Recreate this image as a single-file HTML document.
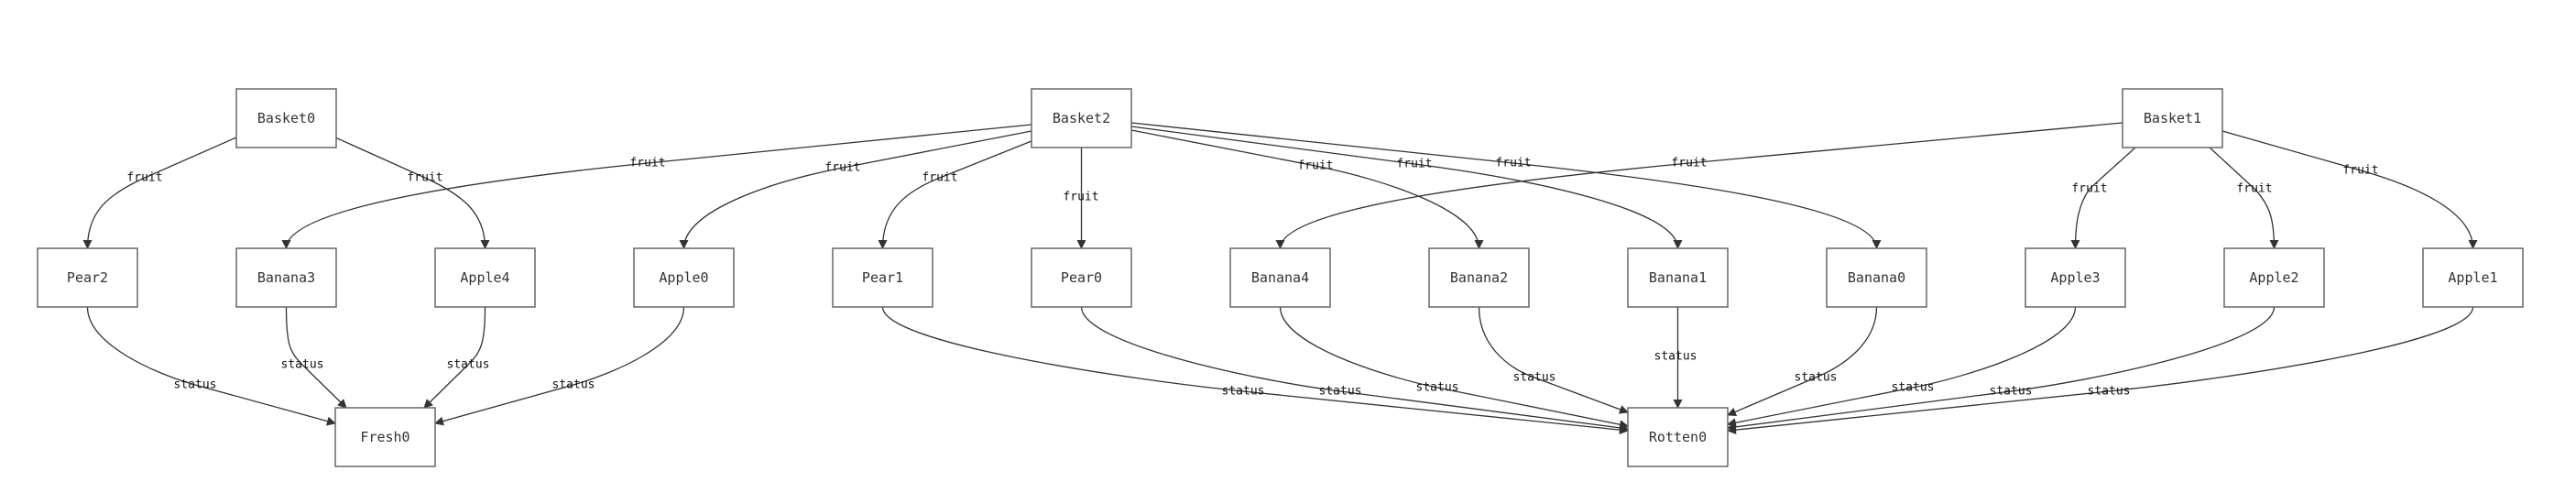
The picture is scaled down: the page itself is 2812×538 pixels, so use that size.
<!DOCTYPE html>
<html><head><meta charset="utf-8"><style>
html,body{margin:0;padding:0;background:#fff;}
svg{display:block;}
.n{fill:#fff;stroke:#666;stroke-width:1.5;}
.e{fill:none;stroke:#333;stroke-width:1.3;}
.t{font-family:"DejaVu Sans Mono","Liberation Mono",monospace;font-size:15px;fill:#333;text-anchor:middle;dominant-baseline:central;}
.l{font-family:"DejaVu Sans Mono","Liberation Mono",monospace;font-size:13px;fill:#111;text-anchor:middle;dominant-baseline:central;}
</style></head><body>
<svg width="2812" height="538" viewBox="0 0 2812 538" xmlns="http://www.w3.org/2000/svg">
<defs><marker id="a" markerWidth="10" markerHeight="10" refX="9" refY="5" orient="auto" markerUnits="userSpaceOnUse"><path d="M0,0 L10,5 L0,10 z" fill="#333"/></marker></defs>
<g marker-end="url(#a)">
<path class="e" d="M258,150 L158,194 C118,212 95.5,231 95.5,271"/>
<path class="e" d="M366,150 L464,194 C503,212 529.5,231 529.5,271"/>
<path class="e" d="M1126,136 L707,178 C539,195 312.5,225 312.5,271"/>
<path class="e" d="M1126,143 L920,183 C838,199 746.5,231 746.5,271"/>
<path class="e" d="M1126,154 L1026,194 C986,210 963.5,231 963.5,271"/>
<path class="e" d="M1180.5,161 L1180.5,271"/>
<path class="e" d="M1235,142 L1436,181 C1516,197 1614.5,231 1614.5,271"/>
<path class="e" d="M1235,138 L1544,179 C1668,195 1831.5,228 1831.5,271"/>
<path class="e" d="M1235,134 L1652,178 C1819,196 2048.5,225 2048.5,271"/>
<path class="e" d="M2317,134 L1844,178 C1655,196 1397.5,225 1397.5,271"/>
<path class="e" d="M2331,161 L2281,206 C2270,222 2265.5,240 2265.5,271"/>
<path class="e" d="M2412,161 L2461,206 C2478,224 2482.5,240 2482.5,271"/>
<path class="e" d="M2426,143 L2577,186 C2637,203 2699.5,231 2699.5,271"/>

<path class="e" d="M95.5,335 C95.5,375 167,407 213,420 L366,462"/>
<path class="e" d="M312.5,335 C312.5,375 316,384 330,398 L378,445"/>
<path class="e" d="M529.5,335 C529.5,375 525,384 511,398 L463,445"/>
<path class="e" d="M746.5,335 C746.5,375 671,407 626,420 L475,462"/>
<path class="e" d="M963.5,335 C963.5,375 1231,414 1357,427 L1777,470"/>
<path class="e" d="M1180.5,335 C1180.5,375 1369,415 1463,427 L1777,468"/>
<path class="e" d="M1397.5,335 C1397.5,375 1507,410 1569,423 L1777,465"/>
<path class="e" d="M1614.5,335 C1614.5,375 1644,401 1675,412 L1777,450"/>
<path class="e" d="M1831.5,335 L1831.5,445"/>
<path class="e" d="M2048.5,335 C2048.5,375 2011,400 1982,412 L1886,453"/>
<path class="e" d="M2265.5,335 C2265.5,375 2149,411 2088,423 L1886,463"/>
<path class="e" d="M2482.5,335 C2482.5,375 2288,415 2195,427 L1886,467"/>
<path class="e" d="M2699.5,335 C2699.5,375 2427,414 2302,427 L1886,470"/>
</g>

<rect class="n" x="258" y="97" width="109" height="64"/><text class="t" x="312.5" y="129">Basket0</text>
<rect class="n" x="1126" y="97" width="109" height="64"/><text class="t" x="1180.5" y="129">Basket2</text>
<rect class="n" x="2317" y="97" width="109" height="64"/><text class="t" x="2371.5" y="129">Basket1</text>

<rect class="n" x="41" y="271" width="109" height="64"/><text class="t" x="95.5" y="303">Pear2</text>
<rect class="n" x="258" y="271" width="109" height="64"/><text class="t" x="312.5" y="303">Banana3</text>
<rect class="n" x="475" y="271" width="109" height="64"/><text class="t" x="529.5" y="303">Apple4</text>
<rect class="n" x="692" y="271" width="109" height="64"/><text class="t" x="746.5" y="303">Apple0</text>
<rect class="n" x="909" y="271" width="109" height="64"/><text class="t" x="963.5" y="303">Pear1</text>
<rect class="n" x="1126" y="271" width="109" height="64"/><text class="t" x="1180.5" y="303">Pear0</text>
<rect class="n" x="1343" y="271" width="109" height="64"/><text class="t" x="1397.5" y="303">Banana4</text>
<rect class="n" x="1560" y="271" width="109" height="64"/><text class="t" x="1614.5" y="303">Banana2</text>
<rect class="n" x="1777" y="271" width="109" height="64"/><text class="t" x="1831.5" y="303">Banana1</text>
<rect class="n" x="1994" y="271" width="109" height="64"/><text class="t" x="2048.5" y="303">Banana0</text>
<rect class="n" x="2211" y="271" width="109" height="64"/><text class="t" x="2265.5" y="303">Apple3</text>
<rect class="n" x="2428" y="271" width="109" height="64"/><text class="t" x="2482.5" y="303">Apple2</text>
<rect class="n" x="2645" y="271" width="109" height="64"/><text class="t" x="2699.5" y="303">Apple1</text>

<rect class="n" x="366" y="445" width="109" height="64"/><text class="t" x="420.5" y="477">Fresh0</text>
<rect class="n" x="1777" y="445" width="109" height="64"/><text class="t" x="1831.5" y="477">Rotten0</text>

<text class="l" x="158" y="194">fruit</text>
<text class="l" x="464" y="194">fruit</text>
<text class="l" x="707" y="178">fruit</text>
<text class="l" x="920" y="183">fruit</text>
<text class="l" x="1026" y="194">fruit</text>
<text class="l" x="1180" y="215">fruit</text>
<text class="l" x="1436" y="181">fruit</text>
<text class="l" x="1544" y="179">fruit</text>
<text class="l" x="1652" y="178">fruit</text>
<text class="l" x="1844" y="178">fruit</text>
<text class="l" x="2281" y="206">fruit</text>
<text class="l" x="2461" y="206">fruit</text>
<text class="l" x="2577" y="186">fruit</text>

<text class="l" x="213" y="420">status</text>
<text class="l" x="330" y="398">status</text>
<text class="l" x="511" y="398">status</text>
<text class="l" x="626" y="420">status</text>
<text class="l" x="1357" y="427">status</text>
<text class="l" x="1463" y="427">status</text>
<text class="l" x="1569" y="423">status</text>
<text class="l" x="1675" y="412">status</text>
<text class="l" x="1829" y="389">status</text>
<text class="l" x="1982" y="412">status</text>
<text class="l" x="2088" y="423">status</text>
<text class="l" x="2195" y="427">status</text>
<text class="l" x="2302" y="427">status</text>
</svg>
</body></html>
